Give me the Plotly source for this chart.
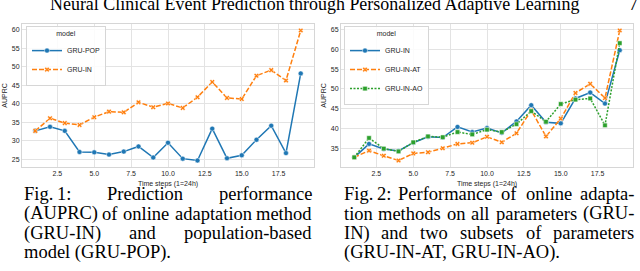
import plotly.graph_objects as go

# ---------------- data ----------------
steps = [1, 2, 3, 4, 5, 6, 7, 8, 9, 10, 11, 12, 13, 14, 15, 16, 17, 18, 19]
gru_pop = [32.7, 33.8, 32.7, 27.0, 26.9, 26.3, 27.1, 28.5, 25.5, 29.5, 25.2, 24.7, 33.3, 25.3, 26.1, 30.3, 34.1, 26.7, 48.2]
gru_in = [32.7, 36.1, 34.8, 34.3, 36.4, 37.9, 37.7, 40.4, 39.1, 40.1, 38.9, 41.8, 45.9, 41.6, 41.3, 47.6, 49.1, 46.3, 59.8]
gru_in_at = [32.7, 34.4, 33.1, 31.9, 33.7, 34.0, 35.0, 36.1, 36.4, 37.9, 36.5, 38.8, 44.6, 38.0, 42.5, 49.0, 51.3, 47.7, 64.8]
gru_in_ao = [32.7, 37.6, 34.9, 34.2, 36.5, 38.0, 37.8, 39.1, 38.5, 39.7, 39.1, 41.1, 44.4, 41.7, 46.2, 47.3, 47.6, 40.8, 61.6]

x_ticks = [2.5, 5.0, 7.5, 10.0, 12.5, 15.0, 17.5]
x_tick_labels = ["2.5", "5.0", "7.5", "10.0", "12.5", "15.0", "17.5"]
y_ticks_left = [25, 30, 35, 40, 45, 50, 55, 60]
y_ticks_right = [35, 40, 45, 50, 55, 60, 65]

header = "Neural Clinical Event Prediction through Personalized Adaptive Learning"
page_no = "7"
caption_left = [
    "Fig.\u20091: Prediction performance",
    "(AUPRC) of online adaptation method",
    "(GRU-IN) and population-based",
    "model (GRU-POP).",
]
caption_right = [
    "Fig.\u20092: Performance of online adapta-",
    "tion methods on all parameters (GRU-",
    "IN) and two subsets of parameters",
    "(GRU-IN-AT, GRU-IN-AO).",
]

# ---------------- styling ----------------
W, H = 640, 271
BLUE, ORANGE, GREEN = "#1f77b4", "#ff7f0e", "#2ca02c"
SANS = "Liberation Sans"
SERIF = "Liberation Serif"
TXT = "#262626"
GRID = "#e3e3e3"


def px_x(v):
    return v / W


def px_y(v):
    return 1 - v / H


def padded(vals):
    lo, hi = min(vals), max(vals)
    m = (hi - lo) * 0.05
    return [lo - m, hi + m]


fig = go.Figure()


def add_series(y, name, color, symbol, dash, xa, ya, legend, msize=5):
    fig.add_trace(go.Scatter(
        x=steps, y=y, name=name, mode="lines+markers",
        line=dict(color=color, width=1.5, dash=dash),
        marker=dict(symbol=symbol, size=msize, color=color, line=dict(color="white", width=0.5)),
        xaxis=xa, yaxis=ya, legend=legend,
    ))


add_series(gru_pop, "GRU-POP", BLUE, "circle", "solid", "x", "y", "legend")
add_series(gru_in, "GRU-IN", ORANGE, "x", "5px,2px", "x", "y", "legend", 4.5)
add_series(gru_in, "GRU-IN", BLUE, "circle", "solid", "x2", "y2", "legend2")
add_series(gru_in_at, "GRU-IN-AT", ORANGE, "x", "5px,2px", "x2", "y2", "legend2", 4.5)
add_series(gru_in_ao, "GRU-IN-AO", GREEN, "square", "2px,1.5px", "x2", "y2", "legend2", 4.5)

axis_common = dict(
    showgrid=True, gridcolor=GRID, gridwidth=1,
    showline=True, linecolor="#d6d6d6", linewidth=1, mirror=True,
    zeroline=False, ticks="", automargin=False,
    tickfont=dict(family=SANS, size=7, color=TXT),
)
xr = padded(steps)
title_font = dict(family=SANS, size=7, color=TXT)

fig.update_layout(
    width=W, height=H, margin=dict(l=0, r=0, t=0, b=0),
    paper_bgcolor="white", plot_bgcolor="white",
    xaxis=dict(domain=[px_x(22), px_x(314)], range=xr, tickvals=x_ticks, ticktext=x_tick_labels,
               anchor="y", title=dict(text="Time steps (1=24h)", font=title_font, standoff=4), **axis_common),
    yaxis=dict(domain=[px_y(167), px_y(24)], range=padded(gru_pop + gru_in), tickvals=y_ticks_left,
               anchor="x", title=dict(text="AUPRC", font=title_font, standoff=3), **axis_common),
    xaxis2=dict(domain=[px_x(341), px_x(633)], range=xr, tickvals=x_ticks, ticktext=x_tick_labels,
                anchor="y2", title=dict(text="Time steps (1=24h)", font=title_font, standoff=4), **axis_common),
    yaxis2=dict(domain=[px_y(167), px_y(24)], range=padded(gru_in + gru_in_at + gru_in_ao), tickvals=y_ticks_right,
                anchor="x2", title=dict(text="AUPRC", font=title_font, standoff=3), **axis_common),
    showlegend=True,
)

legend_common = dict(
    xanchor="left", yanchor="top", bgcolor="rgba(255,255,255,0.85)",
    bordercolor="#d6d6d6", borderwidth=1,
    font=dict(family=SANS, size=7, color=TXT), itemwidth=30, tracegroupgap=0,
)
fig.update_layout(
    legend=dict(x=px_x(26), y=px_y(26), title=dict(text="model", side="top center", font=title_font),
                **legend_common),
    legend2=dict(x=px_x(344), y=px_y(26), title=dict(text="model", side="top center", font=title_font),
                 **legend_common),
)

# ---------------- text (Times-metric justification) ----------------
TIMES = {
    " ": 250, "a": 444, "b": 500, "c": 444, "d": 500, "e": 444, "f": 333, "g": 500, "h": 500, "i": 278,
    "j": 278, "k": 500, "l": 278, "m": 778, "n": 500, "o": 500, "p": 500, "q": 500, "r": 333, "s": 389,
    "t": 278, "u": 500, "v": 500, "w": 722, "x": 500, "y": 500, "z": 444,
    "A": 722, "B": 667, "C": 667, "D": 722, "E": 611, "F": 556, "G": 722, "H": 722, "I": 333, "J": 389,
    "K": 722, "L": 611, "M": 889, "N": 722, "O": 722, "P": 556, "Q": 722, "R": 667, "S": 556, "T": 611,
    "U": 722, "V": 722, "W": 944, "X": 722, "Y": 722, "Z": 611, "(": 333, ")": 333, "-": 333, ".": 250,
    ",": 250, ":": 278, "\u2009": 167,
}


def tw(s, size):
    return sum(TIMES.get(c, 500) for c in s) / 1000 * size


def put(text, x, anchor, yc, size):
    fig.add_annotation(x=px_x(x), y=px_y(yc), xref="paper", yref="paper", text=text, showarrow=False,
                       xanchor=anchor, yanchor="middle", borderpad=0,
                       font=dict(family=SERIF, size=size, color="black"))


def add_line(text, x0, x1, yc, size, justify):
    if not justify:
        put(text, x0, "left", yc, size)
        return
    words = text.split(" ")
    widths = [tw(w, size) for w in words]
    gap = (x1 - x0 - sum(widths)) / (len(words) - 1)
    x = x0
    n = len(words)
    for i, (w, wd) in enumerate(zip(words, widths)):
        if i == 0:
            put(w, x0, "left", yc, size)
        elif i == n - 1:
            put(w, x1, "right", yc, size)
        else:
            put(w, x + wd / 2, "center", yc, size)
        x += wd + gap


CAP_SIZE = 18.5
line_y = [194, 213.5, 233, 252.5]
for i, t in enumerate(caption_left):
    add_line(t, 23, 313, line_y[i], CAP_SIZE, i < len(caption_left) - 1)
for i, t in enumerate(caption_right):
    add_line(t, 343, 635, line_y[i], CAP_SIZE, i < len(caption_right) - 1)

head_size = 531 / (tw(header, 1))
put(header, 49, "left", 4, head_size)
put(page_no, 639, "right", 4, head_size)

fig.write_html("out.html", config={"displayModeBar": False},
               post_script="document.body.style.margin='0';document.body.style.overflow='hidden';")
